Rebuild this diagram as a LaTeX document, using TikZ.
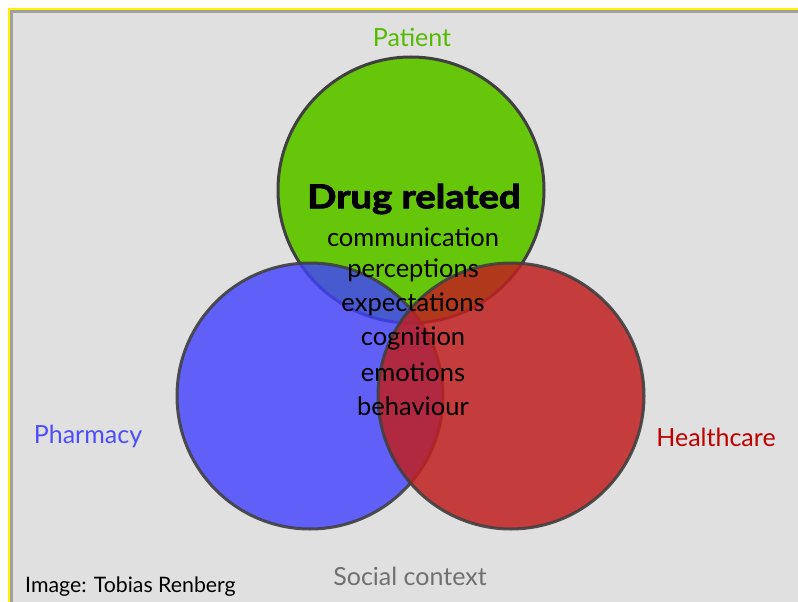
\documentclass[tikz,border=0pt]{standalone}
\usepackage{fontspec}
\setmainfont{Lato}
\newfontfamily\heavyfont{Lato}[BoldFeatures={FakeBold=2.5}]
\definecolor{bggray}{HTML}{E0E0E0}
\definecolor{framegray}{HTML}{A0A0A0}
\definecolor{edgegray}{HTML}{404040}
\definecolor{cgreen}{HTML}{66C60A}
\definecolor{cblue}{HTML}{4040FF}
\definecolor{cred}{HTML}{C02020}
\definecolor{tgreen}{HTML}{55BB00}
\definecolor{tblue}{HTML}{4D4DFF}
\definecolor{tred}{HTML}{C00000}
\definecolor{tgray}{HTML}{707070}
\tikzset{
  venn/.style={circle, minimum size=266pt, inner sep=0pt, draw=edgegray, line width=3pt},
  lbl/.style={inner sep=0pt, anchor=center, font=\fontsize{25}{25}\selectfont},
  inner/.style={inner sep=0pt, anchor=center, font=\fontsize{25.5}{25.5}\selectfont},
}
\begin{document}
\begin{tikzpicture}[x=1pt,y=-1pt]
\useasboundingbox (0,0) rectangle (798,602);
\fill[white] (0,0) rectangle (798,602);
\clip (0,0) rectangle (798,602);
\fill[bggray] (9,9) rectangle (900,700);
\draw[yellow, line width=2pt] (9,9) rectangle (900,700);
\draw[framegray, line width=3pt] (11.5,11.5) rectangle (900,700);
% circles
\node[venn, fill=cgreen] (green) at (411,190) {};
\node[venn, fill=cblue, fill opacity=0.8, draw opacity=0.9] (blue) at (310,396) {};
\node[venn, fill=cred, fill opacity=0.85, draw opacity=0.9] (red) at (511,396) {};
% labels
\node[lbl, text=tgreen] (patient) at (412,37) {Patient};
\node[lbl, text=tblue] (pharmacy) at (88,436) {Pharmacy};
\node[lbl, text=tred] (healthcare) at (716,437) {Healthcare};
\node[lbl, text=tgray] (social) at (410,576) {Social context};
\node[lbl, anchor=west, text=black, font=\fontsize{21.3}{21.3}\selectfont] (credit) at (25,587) {Image: Tobias Renberg};
% central text
\node[inner, font=\heavyfont\bfseries\fontsize{33}{33}\selectfont, xscale=1.16] (drug) at (414,199) {Drug related};
\node[inner] (t1) at (413,237) {communication};
\node[inner] (t2) at (413,270) {perceptions};
\node[inner] (t3) at (413,304) {expectations};
\node[inner] (t4) at (413,338) {cognition};
\node[inner] (t5) at (413,372) {emotions};
\node[inner] (t6) at (413,406) {behaviour};
\end{tikzpicture}
\end{document}
